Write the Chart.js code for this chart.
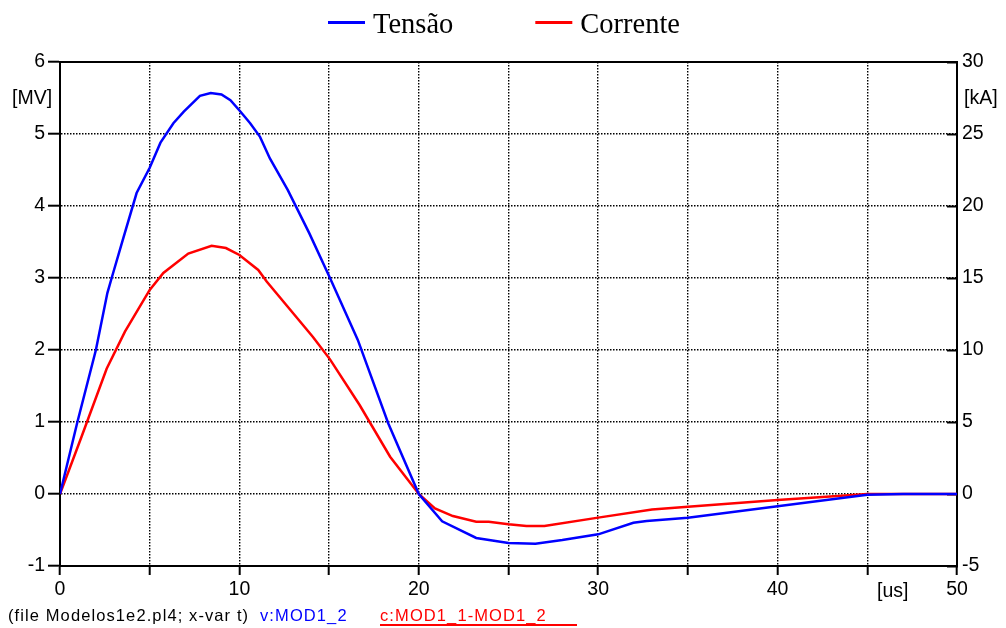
<!DOCTYPE html>
<html>
<head>
<meta charset="utf-8">
<script src="https://cdn.jsdelivr.net/npm/chart.js@4"></script>
<style>
body { margin: 0; background: #fff; }
</style>
</head>
<body>
<canvas id="chart" width="1006" height="628"></canvas>
<script>
// Tensão [MV] against time [us]
var tensaoTime = [0, 0.97, 2.0, 2.64, 2.88, 3.5, 4.27, 5.0, 5.6, 6.32, 6.9, 7.8, 8.4, 9.0, 9.5, 10.03, 10.6, 11.15, 11.7, 12.7, 13.9, 15.05, 16.6, 18.3, 20.0, 21.3, 23.2, 25.0, 26.5, 28.0, 30.0, 31.96, 32.7, 35.0, 40.0, 45.0, 47.0, 50.0];
var tensao = [0, 1.0, 2.0, 2.79, 3.0, 3.53, 4.18, 4.53, 4.88, 5.15, 5.31, 5.53, 5.57, 5.55, 5.47, 5.32, 5.15, 4.96, 4.66, 4.22, 3.62, 3.0, 2.14, 0.98, 0.0, -0.38, -0.61, -0.68, -0.69, -0.64, -0.56, -0.40, -0.375, -0.33, -0.17, -0.01, 0, 0];

// Corrente [kA] against time [us]
var correnteTime = [0, 1.2, 2.6, 3.62, 5.0, 5.76, 7.15, 8.45, 9.25, 10.0, 11.05, 11.52, 14.1, 15.05, 16.7, 18.4, 20.0, 20.9, 21.9, 23.2, 23.9, 25.0, 26.0, 27.0, 30.0, 33.0, 35.0, 40.0, 45.0, 50.0];
var corrente = [0, 3.98, 8.7, 11.27, 14.17, 15.35, 16.7, 17.24, 17.08, 16.6, 15.56, 14.75, 10.9, 9.35, 6.18, 2.59, 0, -1.0, -1.53, -1.92, -1.92, -2.1, -2.22, -2.22, -1.64, -1.08, -0.88, -0.42, 0, 0];

var xLabels = [0, 10, 20, 30, 40, 50];
var seriesNames = ['Tensão', 'Corrente'];
var seriesColors = ['#0000ff', '#ff0000'];

function points(xs, ys) {
    return xs.map(function(x, i) { return { x: x, y: ys[i] }; });
}

var tickFont = { family: 'Liberation Sans', size: 19.5 };

var extras = {
    id: 'extras',
    afterDraw: function(chart) {
        var ctx = chart.ctx, area = chart.chartArea;
        ctx.save();
        // top frame line
        ctx.strokeStyle = '#000';
        ctx.lineWidth = 2;
        ctx.beginPath();
        ctx.moveTo(area.left - 1, area.top);
        ctx.lineTo(area.right + 1, area.top);
        ctx.stroke();

        // legend
        ctx.font = '28.5px "Liberation Serif"';
        ctx.textBaseline = 'alphabetic';
        ctx.textAlign = 'left';
        var x = 328;
        for (var i = 0; i < seriesNames.length; i++) {
            ctx.strokeStyle = seriesColors[i];
            ctx.lineWidth = 3;
            ctx.beginPath();
            ctx.moveTo(x, 22.5);
            ctx.lineTo(x + 37, 22.5);
            ctx.stroke();
            ctx.fillStyle = '#000';
            ctx.fillText(seriesNames[i], x + 45, 33);
            x += 45 + ctx.measureText(seriesNames[i]).width + 82;
        }

        // unit labels
        ctx.font = '19.5px "Liberation Sans"';
        ctx.fillStyle = '#000';
        ctx.fillText('[MV]', 12, 104);
        ctx.fillText('[kA]', 964, 104);
        ctx.fillText('[us]', 877, 597);

        // footer
        ctx.font = '16.5px "Liberation Sans"';
        ctx.letterSpacing = '1.1px';
        ctx.fillText('(file Modelos1e2.pl4; x-var t)', 8, 621);
        ctx.fillStyle = '#0000ff';
        ctx.fillText('v:MOD1_2', 260, 621);
        ctx.fillStyle = '#ff0000';
        ctx.fillText('c:MOD1_1-MOD1_2', 380, 621);
        ctx.strokeStyle = '#ff0000';
        ctx.lineWidth = 2;
        ctx.beginPath();
        ctx.moveTo(380, 625);
        ctx.lineTo(577, 625);
        ctx.stroke();
        ctx.restore();
    }
};

new Chart(document.getElementById('chart'), {
    type: 'line',
    data: {
        datasets: [{
            label: seriesNames[0],
            data: points(tensaoTime, tensao),
            borderColor: seriesColors[0],
            borderWidth: 2.5,
            pointRadius: 0,
            tension: 0,
            yAxisID: 'y'
        }, {
            label: seriesNames[1],
            data: points(correnteTime, corrente),
            borderColor: seriesColors[1],
            borderWidth: 2.5,
            pointRadius: 0,
            tension: 0,
            yAxisID: 'y1'
        }]
    },
    options: {
        responsive: false,
        animation: false,
        devicePixelRatio: 1,
        layout: { padding: { top: 62, left: 0, right: 0, bottom: 0 } },
        plugins: { legend: { display: false }, tooltip: { enabled: false } },
        scales: {
            x: {
                type: 'linear',
                min: 0, max: 50,
                ticks: {
                    stepSize: 5, autoSkip: false, maxRotation: 0,
                    color: '#000', font: tickFont, padding: 3,
                    callback: function(v) { return xLabels.indexOf(v) >= 0 ? String(v) : ''; }
                },
                grid: { color: '#000', lineWidth: 1.4, tickLength: 9, tickWidth: 2, tickColor: '#000' },
                border: { color: '#000', width: 2, dash: [1.5, 1.5] },
                afterFit: function(s) { s.height = 62; }
            },
            y: {
                position: 'left',
                min: -1, max: 6,
                ticks: { stepSize: 1, color: '#000', font: tickFont, padding: 3 },
                grid: { color: '#000', lineWidth: 1.4, tickLength: 12, tickWidth: 2, tickColor: '#000' },
                border: { color: '#000', width: 2, dash: [1.5, 1.5] },
                afterFit: function(s) { s.width = 60; }
            },
            y1: {
                position: 'right',
                min: -5, max: 30,
                ticks: { stepSize: 5, color: '#000', font: tickFont, padding: 15 },
                grid: { drawOnChartArea: false, tickLength: -10, tickWidth: 2, tickColor: '#000' },
                border: { color: '#000', width: 2 },
                afterFit: function(s) { s.width = 49; }
            }
        }
    },
    plugins: [extras]
});
</script>
</body>
</html>
